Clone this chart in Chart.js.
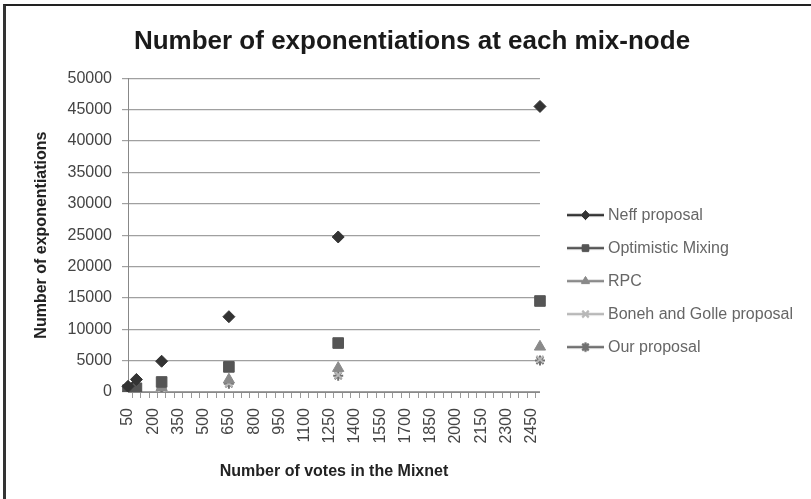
<!DOCTYPE html>
<html lang="en">
<head>
    <meta charset="UTF-8">
    <script src="https://cdn.jsdelivr.net/npm/chart.js@4"></script>
    <title>Number of exponentiations at each mix-node</title>
    <style>
        html, body { margin: 0; padding: 0; background: #fff; }
        #wrap { position: relative; width: 811px; height: 499px; }
        #frame { position: absolute; left: 3px; top: 4px; right: 0; bottom: 0;
                 border-top: 2px solid #222; border-left: 3px solid #333; }
        #myChart { position: absolute; left: 0; top: 0; }
    </style>
</head>
<body>
<div id="wrap">
    <div id="frame"></div>
    <canvas id="myChart" width="811" height="499"></canvas>
</div>
<script>
    // category axis: number of votes
    var votes = [50, 100, 150, 200, 250, 300, 350, 400, 450, 500,
                 550, 600, 650, 700, 750, 800, 850, 900, 950, 1000,
                 1050, 1100, 1150, 1200, 1250, 1300, 1350, 1400, 1450, 1500,
                 1550, 1600, 1650, 1700, 1750, 1800, 1850, 1900, 1950, 2000,
                 2050, 2100, 2150, 2200, 2250, 2300, 2350, 2400, 2450, 2500];
    // the vote counts that were measured
    var measured = [50, 100, 250, 650, 1300, 2500];
    var neff       = [900, 2000, 4900, 12000, 24700, 45500];
    var optimistic = [300, 600, 1600, 4000, 7800, 14500];
    var rpc        = [150, 300, 750, 1950, 3800, 7200];
    var bonehGolle = [110, 220, 540, 1400, 2700, 5200];
    var ours       = [100, 200, 500, 1300, 2600, 5000];
    var yTicks = [0, 5000, 10000, 15000, 20000, 25000, 30000, 35000, 40000, 45000, 50000];

    var names = ['Neff proposal', 'Optimistic Mixing', 'RPC', 'Boneh and Golle proposal', 'Our proposal'];
    var colors = ['#333333', '#555555', '#8a8a8a', '#b8b8b8', '#707070'];
    var styles = ['rectRot', 'rect', 'triangle', 'crossRot', 'star'];
    var radii = [6, 7.5, 6.5, 5, 5];

    function spread(values) {
        return votes.map(function (v) {
            var i = measured.indexOf(v);
            return i >= 0 ? values[i] : null;
        });
    }

    var allSeries = [neff, optimistic, rpc, bonehGolle, ours];
    var datasets = allSeries.map(function (s, k) {
        return {
            label: names[k],
            data: spread(s),
            borderColor: colors[k],
            backgroundColor: colors[k],
            pointStyle: styles[k],
            pointRadius: radii[k],
            pointBorderWidth: k >= 3 ? 2 : 1,
            spanGaps: false,
            borderWidth: 2
        };
    });

    // little line + marker picture for the legend, like Excel
    function makeIcon(k) {
        var c = document.createElement('canvas');
        c.width = 51; c.height = 14;
        var g = c.getContext('2d');
        g.strokeStyle = colors[k];
        g.fillStyle = colors[k];
        g.lineWidth = 2.5;
        g.beginPath(); g.moveTo(14, 7); g.lineTo(51, 7); g.stroke();
        g.lineWidth = k >= 3 ? 2 : 1;
        Chart.helpers.drawPoint(g, {pointStyle: styles[k], radius: Math.min(radii[k], 4.5), borderWidth: g.lineWidth}, 32.5, 7);
        if (k < 3) g.fill();
        g.stroke();
        return c;
    }
    var icons = names.map(function (n, k) { return makeIcon(k); });

    var font = 'Liberation Sans, Arial, sans-serif';
    var ctx = document.getElementById('myChart');
    new Chart(ctx, {
        type: 'line',
        data: { labels: votes, datasets: datasets },
        options: {
            responsive: false,
            animation: false,
            layout: { padding: { left: 21, right: 8, top: 0, bottom: 0 } },
            plugins: {
                title: {
                    display: true,
                    text: 'Number of exponentiations at each mix-node',
                    color: '#1a1a1a',
                    font: { family: font, size: 26, weight: 'bold' },
                    padding: { top: 26, bottom: 21 }
                },
                legend: {
                    position: 'right',
                    fullSize: false,
                    maxWidth: 400,
                    title: { display: true, text: '', padding: 38.8, font: { size: 12 } },
                    labels: {
                        usePointStyle: true,
                        pointStyleWidth: 43,
                        padding: 17,
                        color: '#444',
                        font: { family: font, size: 16 },
                        generateLabels: function (chart) {
                            return names.map(function (n, k) {
                                return { text: n, pointStyle: icons[k], datasetIndex: k,
                                         fillStyle: colors[k], strokeStyle: colors[k], lineWidth: 0 };
                            });
                        }
                    }
                },
                tooltip: { enabled: false }
            },
            scales: {
                x: {
                    type: 'category',
                    afterFit: function (s) { s.height = 107; },
                    border: { color: '#888', width: 1 },
                    grid: { display: true, drawOnChartArea: false, tickLength: 6, color: '#999', offset: true },
                    ticks: {
                        autoSkip: false, minRotation: 90, maxRotation: 90, padding: 10,
                        color: '#444', font: { family: font, size: 16 },
                        callback: function (v, i) { return i % 3 === 0 ? votes[i] : ''; }
                    },
                    title: {
                        display: true, text: 'Number of votes in the Mixnet', color: '#222',
                        font: { family: font, size: 16, weight: 'bold' }, padding: { top: 0, bottom: 17.4 }
                    }
                },
                y: {
                    min: 0, max: 50000,
                    afterFit: function (s) { s.width = 107; },
                    afterBuildTicks: function (s) { s.ticks = yTicks.map(function (v) { return { value: v }; }); },
                    border: { color: '#888', width: 1 },
                    grid: { color: '#a0a0a0', lineWidth: 1.2, tickLength: 6 },
                    ticks: {
                        padding: 10, color: '#444', font: { family: font, size: 16 },
                        callback: function (v) { return v; }
                    },
                    title: {
                        display: true, text: 'Number of exponentiations', color: '#222',
                        font: { family: font, size: 16, weight: 'bold' }, padding: { top: 11.4, bottom: 0 }
                    }
                }
            }
        }
    });
</script>
</body>
</html>
